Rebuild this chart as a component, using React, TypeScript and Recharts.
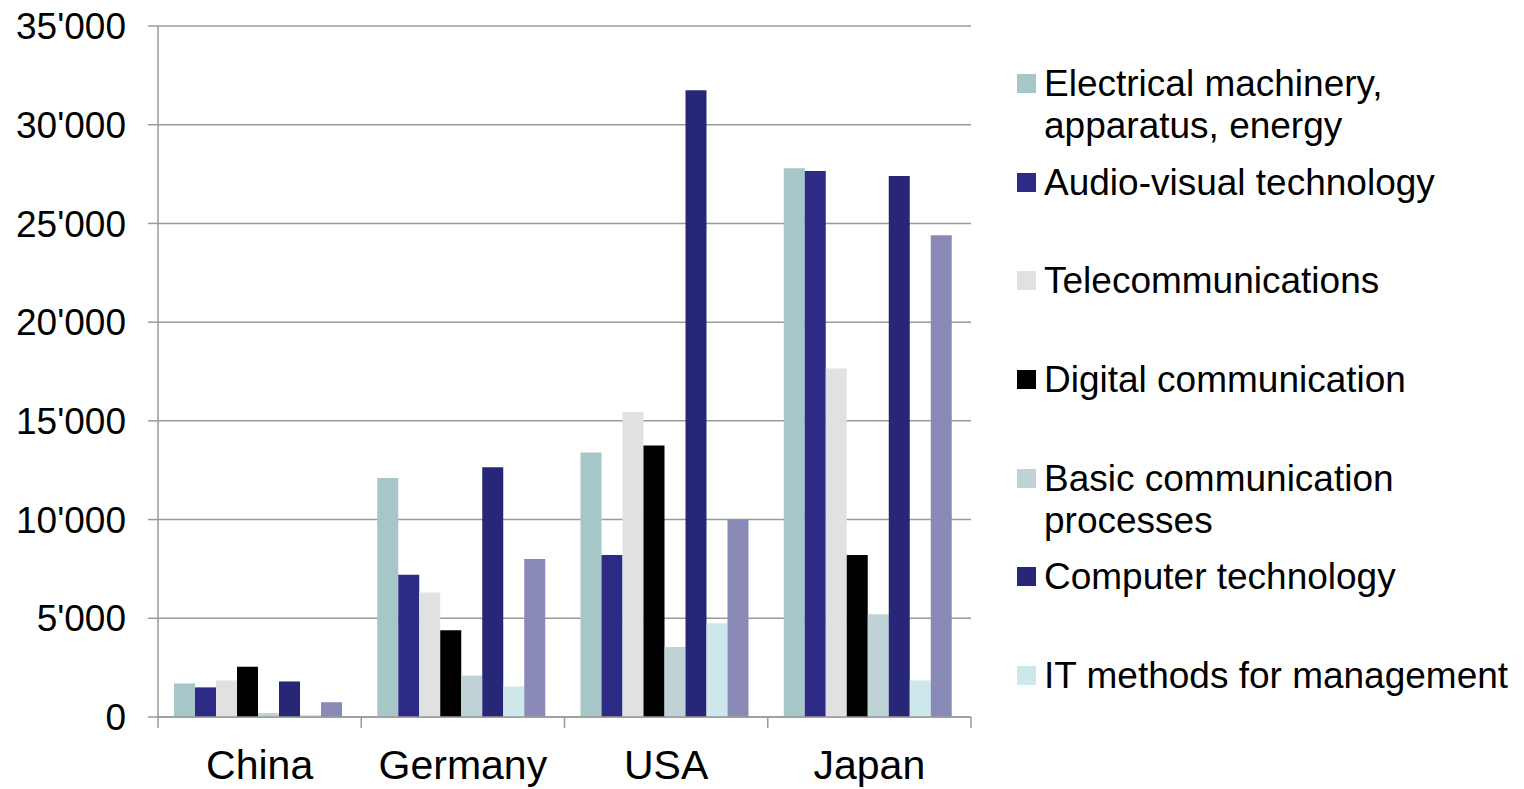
import React from 'react';
import { BarChart, Bar, XAxis, YAxis, CartesianGrid, Legend } from 'recharts';

const countries = ['China', 'Germany', 'USA', 'Japan'];

const electrical = [1700, 12100, 13400, 27800];
const audioVisual = [1500, 7200, 8200, 27650];
const telecom = [1850, 6300, 15450, 17650];
const digital = [2550, 4400, 13750, 8200];
const basicComm = [200, 2100, 3550, 5200];
const computer = [1800, 12650, 31750, 27400];
const itMethods = [100, 1550, 4750, 1850];
const semiconductors = [750, 8000, 10000, 24400];

const yTicks = [0, 5000, 10000, 15000, 20000, 25000, 30000, 35000];

const series = [
  { key: 'electrical', name: 'Electrical machinery, apparatus, energy', values: electrical, color: '#a6c6c8' },
  { key: 'audioVisual', name: 'Audio-visual technology', values: audioVisual, color: '#2e2b87' },
  { key: 'telecom', name: 'Telecommunications', values: telecom, color: '#e1e1e1' },
  { key: 'digital', name: 'Digital communication', values: digital, color: '#000000' },
  { key: 'basicComm', name: 'Basic communication processes', values: basicComm, color: '#bfd2d5' },
  { key: 'computer', name: 'Computer technology', values: computer, color: '#272677' },
  { key: 'itMethods', name: 'IT methods for management', values: itMethods, color: '#cde7ea' },
  // last series has no visible legend entry in the original (cut off)
  { key: 'semiconductors', name: 'Semiconductors', values: semiconductors, color: '#898ab8', hidden: true },
];

const data = countries.map((name, i) => {
  const row: Record<string, string | number> = { name };
  series.forEach((s) => { row[s.key] = s.values[i]; });
  return row;
});

const FONT = '"Liberation Sans", Arial, sans-serif';
const GRID = '#9a9a9a';

const fmt = (v: number) => String(v).replace(/\B(?=(\d{3})+(?!\d))/g, "'");

const CountryTick = (props: any) => {
  const { x, y, payload, index, width } = props;
  const half = payload?.offset || (width || 813) / countries.length / 2;
  const last = index === countries.length - 1;
  return (
    <g>
      <line x1={x - half} x2={x - half} y1={y} y2={y + 11} stroke={GRID} strokeWidth={1.5} />
      {last && <line x1={x + half} x2={x + half} y1={y} y2={y + 11} stroke={GRID} strokeWidth={1.5} />}
      <text x={x} y={y + 62} textAnchor="middle" fontSize={41} fill="#000" fontFamily={FONT}>
        {payload.value}
      </text>
    </g>
  );
};

const order = series.map((s) => s.name);

const renderLegend = (props: any) => {
  const items = (props.payload || [])
    .filter((e: any) => e.type !== 'none')
    .sort((a: any, b: any) => order.indexOf(a.value) - order.indexOf(b.value));
  return (
    <div style={{ fontFamily: FONT, fontSize: 37, color: '#000' }}>
      {items.map((entry: any) => (
        <div key={entry.value} style={{ display: 'flex', height: 98.7 }}>
          <span style={{ width: 19, height: 19, background: entry.color, marginTop: 11, marginRight: 8, flex: 'none' }} />
          <span style={{ width: 480, lineHeight: '42px' }}>{entry.value}</span>
        </div>
      ))}
    </div>
  );
};

const App: React.FC = () => {
  return (
    <div style={{ position: 'absolute', left: 0, top: 0, width: 1524, height: 789, background: '#fff' }}>
      <BarChart
        width={1524}
        height={789}
        data={data}
        margin={{ top: 26, right: 553, bottom: 0, left: 0 }}
        barCategoryGap={16}
        barGap={0}
        style={{ fontFamily: FONT }}
      >
        <CartesianGrid vertical={false} stroke={GRID} strokeWidth={1.5} />
        <XAxis
          dataKey="name"
          height={72}
          axisLine={{ stroke: GRID, strokeWidth: 1.5 }}
          tickLine={false}
          tickSize={0}
          tickMargin={0}
          tick={<CountryTick />}
          interval={0}
        />
        <YAxis
          width={158}
          domain={[0, 35000]}
          ticks={yTicks}
          tickFormatter={fmt}
          axisLine={{ stroke: GRID, strokeWidth: 1.5 }}
          tickLine={{ stroke: GRID, strokeWidth: 1.5 }}
          tickSize={10}
          tickMargin={22}
          tick={{ fill: '#000', fontSize: 37, fontFamily: FONT }}
        />
        <Legend
          layout="vertical"
          align="center"
          verticalAlign="middle"
          content={renderLegend}
          wrapperStyle={{ left: 1017, top: 63, width: 507 }}
        />
        {series.map((s) => (
          <Bar
            key={s.key}
            dataKey={s.key}
            name={s.name}
            fill={s.color}
            legendType={s.hidden ? 'none' : 'square'}
            isAnimationActive={false}
          />
        ))}
      </BarChart>
    </div>
  );
};

export default App;
